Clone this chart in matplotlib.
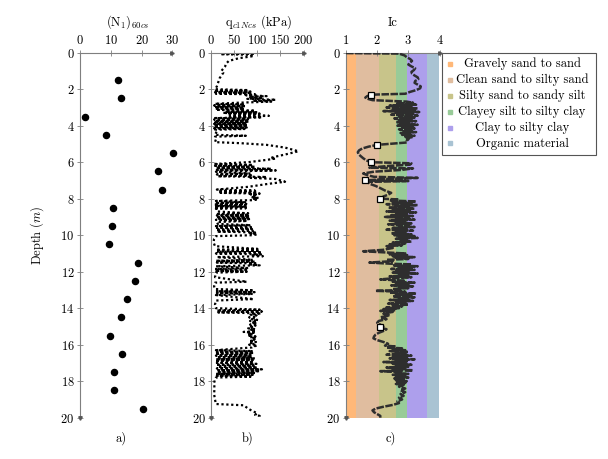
import numpy as np
import matplotlib
matplotlib.use('Agg')
import matplotlib.pyplot as plt
from matplotlib.patches import Rectangle
from matplotlib.lines import Line2D

plt.rcParams['font.family'] = ['cmr10', 'DejaVu Serif']
plt.rcParams['mathtext.fontset'] = 'cm'
plt.rcParams['axes.formatter.use_mathtext'] = True
plt.rcParams['font.size'] = 9

# a) (N1)60cs from SPT, one value per metre
n_depth = [1.5, 2.5, 3.5, 4.5, 5.5, 6.5, 7.5, 8.5, 9.5, 10.5, 11.5, 12.5, 13.5, 14.5, 15.5, 16.5, 17.5, 18.5, 19.5]
n_val = [12.2, 13.3, 1.6, 8.3, 30.2, 25.4, 26.5, 10.7, 10.5, 9.3, 18.7, 18.0, 15.3, 13.3, 9.8, 13.7, 11.1, 11.0, 20.3]

# b) qc1Ncs (kPa)
qc_depth = [0.00, 0.04, 0.08, 0.12, 0.20, 0.30, 0.45, 0.60, 0.75, 0.90, 1.00, 1.10, 1.25, 1.40, 1.55, 1.70, 1.85, 2.00,
            2.05, 2.09, 2.13, 2.17, 2.21, 2.25, 2.28, 2.33, 2.38, 2.43, 2.48, 2.53, 2.58, 2.63, 2.68, 2.74, 2.80,
            2.85, 2.89, 2.93, 2.97, 3.01, 3.05, 3.09, 3.13, 3.18, 3.22, 3.26, 3.30, 3.34, 3.38, 3.42, 3.46, 3.50, 3.54,
            3.58, 3.62, 3.66, 3.70, 3.74, 3.78, 3.82, 3.86, 3.90, 3.94, 3.98, 4.02, 4.06, 4.10, 4.14, 4.18, 4.22,
            4.30, 4.40, 4.50, 4.55, 4.60, 4.75, 4.90, 4.96, 5.05, 5.20, 5.40, 5.55, 5.72, 5.78, 5.80, 5.88, 6.00, 6.10,
            6.15, 6.20, 6.25, 6.30, 6.36, 6.42, 6.45, 6.52, 6.62, 6.67, 6.72, 6.77, 6.81, 6.86, 6.92, 7.07, 7.20, 7.35, 7.50,
            7.56, 7.60, 7.64, 7.68, 7.72, 7.76, 7.80, 7.84, 7.88, 7.92, 7.96, 8.00, 8.04, 8.08, 8.12,
            8.20, 8.24, 8.28, 8.32, 8.36, 8.40, 8.44, 8.48, 8.52, 8.56, 8.70,
            8.80, 8.84, 8.88, 8.92, 8.96, 9.00, 9.04, 9.08, 9.12, 9.16, 9.22, 9.28, 9.38,
            9.45, 9.50, 9.55, 9.60, 9.65, 9.70, 9.75, 9.80, 9.85, 9.90, 9.95, 10.00, 10.05, 10.20, 10.40, 10.60,
            10.75, 10.80, 10.85, 10.90, 10.95, 11.00, 11.05, 11.10, 11.15, 11.20,
            11.35, 11.40, 11.45, 11.50, 11.55, 11.60, 11.65, 11.70, 11.80, 11.85, 11.90, 11.95, 12.00, 12.05,
            12.30, 12.55, 12.60, 12.80, 12.95, 13.02, 13.07, 13.12, 13.17, 13.22, 13.28, 13.50, 13.58, 13.80, 14.00,
            14.08, 14.13, 14.18, 14.23, 14.28, 14.35, 14.40, 14.45, 14.50, 14.55, 14.60, 14.65, 14.70, 14.75, 14.80,
            14.85, 14.90, 14.95, 15.00, 15.05, 15.10, 15.15, 15.20, 15.25, 15.30, 15.35, 15.40, 15.45, 15.50, 15.55,
            15.60, 15.65, 15.70, 15.75, 15.80, 15.85, 15.90, 15.95, 16.00, 16.05, 16.10, 16.15,
            16.30, 16.35, 16.40, 16.45, 16.50, 16.55, 16.60, 16.65, 16.70, 16.75, 16.80, 16.85, 16.90, 16.95, 17.00,
            17.05, 17.10, 17.15, 17.20, 17.25, 17.30, 17.35, 17.40, 17.45, 17.50, 17.55, 17.60, 17.65, 17.70, 17.75, 17.80,
            17.90, 18.10, 18.40, 18.70, 19.00, 19.25, 19.32, 19.50, 19.65, 19.75, 19.85, 19.90, 20.00]
qc_val = [2, 95, 20, 92, 88, 60, 38, 32, 30, 25, 22, 26, 22, 18, 16, 14, 12, 8,
          80, 6, 85, 8, 88, 10, 95, 75, 120, 82, 112, 78, 140, 90, 130, 60, 8,
          72, 6, 75, 8, 70, 7, 72, 10, 95, 30, 100, 25, 105, 35, 90, 125, 40, 110,
          8, 80, 6, 78, 8, 82, 5, 76, 6, 78, 5, 74, 6, 77, 6, 72, 8,
          12, 10, 8, 75, 8, 10, 8, 65, 120, 160, 189, 165, 135, 128, 140, 118, 80, 5,
          90, 8, 95, 10, 130, 12, 140, 10, 85, 12, 90, 14, 120, 85, 140, 160, 120, 80, 12,
          95, 15, 100, 20, 105, 85, 100, 88, 98, 86, 104, 90, 100, 92, 10,
          75, 8, 76, 6, 74, 8, 77, 6, 75, 10, 14,
          80, 10, 82, 12, 83, 10, 80, 12, 82, 10, 78, 12, 14,
          85, 10, 86, 12, 88, 10, 90, 12, 95, 85, 100, 90, 10, 6, 5, 8,
          100, 10, 105, 12, 110, 10, 108, 90, 112, 12,
          90, 10, 95, 12, 100, 85, 105, 10, 78, 8, 80, 8, 77, 10,
          8, 77, 8, 6, 8, 92, 10, 94, 12, 90, 10, 92, 10, 8, 10,
          105, 12, 110, 15, 108, 85, 98, 100, 82, 95, 88, 102, 84, 98, 88,
          100, 84, 96, 86, 92, 80, 95, 84, 97, 70, 92, 80, 90, 78, 96,
          84, 98, 88, 95, 82, 97, 86, 94, 82, 100, 90, 88,
          10, 90, 12, 92, 8, 85, 10, 88, 12, 95, 10, 90, 8, 92, 12,
          98, 10, 92, 14, 100, 12, 110, 15, 105, 12, 95, 10, 90, 12, 85, 10,
          8, 6, 7, 6, 8, 10, 70, 80, 90, 100, 95, 105, 100]

# c) Ic trace
ic_depth = [0.02, 0.05, 0.15, 0.25, 0.35, 0.45, 0.55, 0.65, 0.75, 0.85, 0.95, 1.05, 1.15, 1.25, 1.35, 1.45, 1.55,
            1.65, 1.75, 1.85, 1.95, 2.05, 2.15, 2.25, 2.30, 2.38, 2.46, 2.54, 2.60, 2.64, 2.68, 2.74,
            2.80, 2.85, 2.90, 2.95, 3.00, 3.05, 3.10, 3.15, 3.20, 3.25, 3.30, 3.35, 3.40, 3.45, 3.50, 3.55, 3.60,
            3.65, 3.70, 3.75, 3.80, 3.85, 3.90, 3.95, 4.00, 4.05, 4.10, 4.15, 4.20, 4.25, 4.30, 4.35, 4.40, 4.45,
            4.50, 4.55, 4.60, 4.65, 4.70, 4.75, 4.82, 4.92, 5.05, 5.15, 5.25, 5.35, 5.45, 5.55, 5.65, 5.78, 5.90,
            6.00, 6.06, 6.14, 6.20, 6.30, 6.34, 6.42, 6.52, 6.62, 6.72, 6.80, 6.86, 6.93, 7.00, 7.03, 7.08, 7.18,
            7.30, 7.42, 7.55, 7.68, 7.78, 7.88, 8.00, 8.04,
            8.10, 8.15, 8.20, 8.25, 8.30, 8.35, 8.40, 8.45, 8.50, 8.55, 8.60, 8.65, 8.70, 8.75, 8.80, 8.85, 8.90,
            8.95, 9.00, 9.05, 9.10, 9.15, 9.20, 9.25, 9.30, 9.35, 9.40, 9.45, 9.50, 9.55, 9.60, 9.65, 9.70, 9.75,
            9.80, 9.85, 9.90, 9.95, 10.00, 10.05, 10.10, 10.15, 10.20, 10.25, 10.30, 10.35, 10.40, 10.45, 10.50,
            10.55, 10.60, 10.70, 10.80, 10.88, 10.95, 11.00, 11.05, 11.10, 11.15, 11.20, 11.25, 11.30, 11.35, 11.42,
            11.50, 11.56, 11.60, 11.65, 11.70, 11.75, 11.80, 11.85, 11.90, 11.95, 12.00, 12.05, 12.10, 12.15, 12.20,
            12.25, 12.30, 12.35, 12.42, 12.50, 12.55, 12.60, 12.65, 12.70, 12.75, 12.80, 12.85, 12.90, 12.95, 13.00,
            13.05, 13.10, 13.15, 13.20, 13.25, 13.30, 13.35, 13.40, 13.45, 13.50, 13.55, 13.60, 13.65, 13.70, 13.75,
            13.80, 13.85, 13.90, 13.95, 14.00, 14.05, 14.10, 14.15, 14.20, 14.30, 14.40, 14.50, 14.60, 14.70, 14.80,
            14.90, 15.00, 15.08, 15.15, 15.25, 15.35, 15.45, 15.55, 15.65, 15.75, 15.85, 15.95, 16.05, 16.10, 16.15,
            16.20, 16.25, 16.30, 16.35, 16.40, 16.45, 16.50, 16.55, 16.60, 16.65, 16.70, 16.75, 16.80, 16.85, 16.90,
            16.95, 17.00, 17.05, 17.10, 17.15, 17.20, 17.25, 17.30, 17.35, 17.40, 17.45, 17.50, 17.55, 17.60, 17.65,
            17.70, 17.75, 17.80, 17.85, 17.90, 17.95, 18.00, 18.05, 18.10, 18.15, 18.20, 18.30, 18.40, 18.50, 18.60,
            18.70, 18.80, 18.90, 19.00, 19.10, 19.20, 19.30, 19.40, 19.50, 19.60, 19.70, 19.80, 19.90, 20.00]
ic_val = [1.00, 2.70, 2.88, 2.95, 3.06, 3.12, 3.05, 3.00, 3.10, 3.22, 3.18, 3.10, 3.12, 3.20, 3.30, 3.32, 3.22,
          3.20, 3.30, 3.40, 3.38, 3.25, 3.05, 2.90, 1.80, 1.68, 1.62, 1.72, 1.85, 2.40, 2.95, 3.15,
          2.60, 3.25, 2.40, 3.10, 2.30, 3.30, 2.50, 3.20, 2.20, 3.35, 2.60, 3.15, 2.45, 3.30, 2.70, 3.20, 2.55,
          3.10, 2.70, 3.25, 2.60, 3.00, 2.75, 3.30, 2.65, 3.15, 2.80, 3.20, 2.70, 3.10, 2.85, 3.25, 2.75, 3.05,
          2.80, 3.20, 2.90, 3.10, 2.95, 3.00, 2.95, 2.95, 2.00, 1.72, 1.52, 1.42, 1.38, 1.40, 1.46, 1.55, 1.65,
          1.80, 3.10, 3.05, 2.40, 1.75, 3.15, 2.80, 1.90, 1.55, 1.70, 1.90, 3.30, 2.20, 1.60, 3.00, 1.70, 1.75,
          1.95, 2.10, 2.25, 2.45, 2.35, 2.20, 2.10, 2.70,
          2.40, 3.25, 2.50, 3.10, 2.30, 3.30, 2.60, 3.00, 2.35, 3.20, 2.50, 3.05, 2.30, 3.25, 2.60, 2.95, 2.45,
          3.15, 2.25, 3.00, 2.55, 3.20, 2.40, 2.90, 2.60, 3.10, 2.35, 3.00, 2.70, 3.20, 2.50, 2.95, 2.30, 3.15,
          2.60, 2.90, 2.45, 3.10, 2.55, 3.20, 2.70, 3.30, 2.60, 3.00, 2.75, 3.10, 2.50, 2.90, 2.40,
          2.80, 2.30, 2.50, 2.20, 1.55, 2.30, 2.90, 2.40, 3.00, 2.50, 3.20, 2.60, 3.00, 2.30, 2.50,
          1.75, 2.40, 3.10, 2.50, 3.30, 2.70, 3.10, 2.45, 3.20, 2.60, 3.00, 2.50, 3.30, 2.70, 3.00,
          2.40, 3.10, 2.60, 2.10, 2.90, 2.50, 3.20, 2.60, 3.00, 2.45, 3.15, 2.70, 3.00, 2.50, 2.80,
          1.95, 2.90, 2.40, 3.25, 2.60, 3.10, 2.50, 3.20, 2.70, 3.00, 2.40, 3.15, 2.60, 2.90, 2.35,
          3.00, 2.50, 2.80, 2.30, 2.70, 2.20, 2.60, 2.10, 2.50, 2.20, 2.40, 2.10, 2.30, 2.05, 2.00,
          2.10, 2.20, 2.10, 2.30, 2.20, 2.05, 1.95, 1.90, 1.88, 2.00, 2.20, 2.35, 2.25, 2.60, 2.30,
          2.80, 2.50, 2.90, 2.40, 3.00, 2.60, 2.90, 2.30, 3.10, 2.50, 2.95, 2.40, 3.20, 2.60, 3.00,
          2.20, 2.90, 2.50, 3.10, 2.60, 3.00, 2.30, 2.90, 2.50, 3.15, 2.10, 2.80, 2.60, 3.00, 2.50,
          2.90, 2.60, 3.00, 2.55, 2.85, 2.60, 2.95, 2.65, 2.90, 2.60, 2.85, 2.70, 2.90, 2.75, 2.90,
          2.75, 2.85, 2.70, 2.80, 2.65, 2.70, 2.50, 2.20, 1.95, 1.85, 1.90, 2.00, 2.10, 2.10]

# sample points (white squares)
sq_depth = [2.3, 5.05, 6.0, 7.0, 8.0, 15.05]
sq_val = [1.8, 2.0, 1.8, 1.6, 2.1, 2.1]

# soil behaviour type zones
zone_names = ['Gravely sand to sand', 'Clean sand to silty sand', 'Silty sand to sandy silt',
              'Clayey silt to silty clay', 'Clay to silty clay', 'Organic material']
zone_edges = [1.0, 1.31, 2.05, 2.60, 2.95, 3.60, 4.0]
zone_colors = ['#ffb878', '#e0bd9f', '#c8c48a', '#98cb98', '#ad9fec', '#a9c3d3']

W, H = 608, 459
fig = plt.figure(figsize=(W / 100, H / 100), dpi=100)

def px_axes(x0, x1, y0=52.7, y1=417.7):
    return fig.add_axes([x0 / W, 1 - y1 / H, (x1 - x0) / W, (y1 - y0) / H])

axa = px_axes(80, 172.5)
axb = px_axes(211.3, 303.5)
axc = px_axes(346, 439.5)

gray = '#7f7f7f'
for ax in (axa, axb, axc):
    ax.set_ylim(20, 0)
    ax.set_yticks(range(0, 21, 2))
    ax.xaxis.tick_top()
    for s in ('right', 'bottom'):
        ax.spines[s].set_visible(False)
    for s in ('left', 'top'):
        ax.spines[s].set_color(gray)
        ax.spines[s].set_linewidth(0.8)
    ax.tick_params(direction='inout', length=4, width=0.6, color=gray, labelsize=9, pad=2)
    ax.patch.set_alpha(0)
    ax.plot(1, 1, '>', transform=ax.transAxes, clip_on=False, color='#555555', ms=2.5, zorder=10)
    ax.plot(0, 0, 'v', transform=ax.transAxes, clip_on=False, color='#555555', ms=2.5, zorder=10)

axa.set_xlim(0, 30)
axa.set_xticks([0, 10, 20, 30])
axa.plot(n_val, n_depth, 'o', color='black', ms=4.4, clip_on=False)
axa.set_ylabel('Depth ($m$)', fontsize=9, labelpad=10)

axb.set_xlim(0, 200)
axb.set_xticks([0, 50, 100, 150, 200])
axb.plot(qc_val, qc_depth, color='black', lw=1.6, linestyle=(0, (1, 1.2)), dash_capstyle='butt')

axc.set_xlim(1, 4)
axc.set_xticks([1, 2, 3, 4])
for i in range(len(zone_colors)):
    axc.axvspan(zone_edges[i], zone_edges[i + 1], color=zone_colors[i], lw=0, zorder=0)
axc.plot(ic_val, ic_depth, color='#2e2e2e', lw=1.8, linestyle=(0, (3, 0.6)), zorder=3)
axc.plot(sq_val, sq_depth, 's', mfc='white', mec='black', mew=0.9, ms=4.6, zorder=4)

fig.text(128 / W, 1 - 22 / H, r'(N$_1$)$_{60cs}$', ha='center', va='center', fontsize=9)
fig.text(258 / W, 1 - 22 / H, r'q$_{c1Ncs}$ (kPa)', ha='center', va='center', fontsize=9)
fig.text(393 / W, 1 - 23 / H, 'Ic', ha='center', va='center', fontsize=9)
fig.text(121 / W, 1 - 438 / H, 'a)', ha='center', va='center', fontsize=9)
fig.text(248 / W, 1 - 438 / H, 'b)', ha='center', va='center', fontsize=9)
fig.text(391 / W, 1 - 438 / H, 'c)', ha='center', va='center', fontsize=9)

# legend drawn by hand so the labels can be centred
fig.add_artist(Rectangle((442 / W, 1 - 155 / H), (596 - 442) / W, (155 - 53) / H,
                         transform=fig.transFigure, fill=False, edgecolor='#555555', lw=0.8))
row_y = [64, 79.5, 95.5, 111.5, 127.5, 143.5]
for name, c, y in zip(zone_names, zone_colors, row_y):
    fig.add_artist(Line2D([450 / W], [1 - y / H], marker='s', ms=3.5, color=c, ls='none',
                          transform=fig.transFigure))
    fig.text(522 / W, 1 - y / H, name, ha='center', va='center', fontsize=9)

fig.savefig('out.png', dpi=100)
